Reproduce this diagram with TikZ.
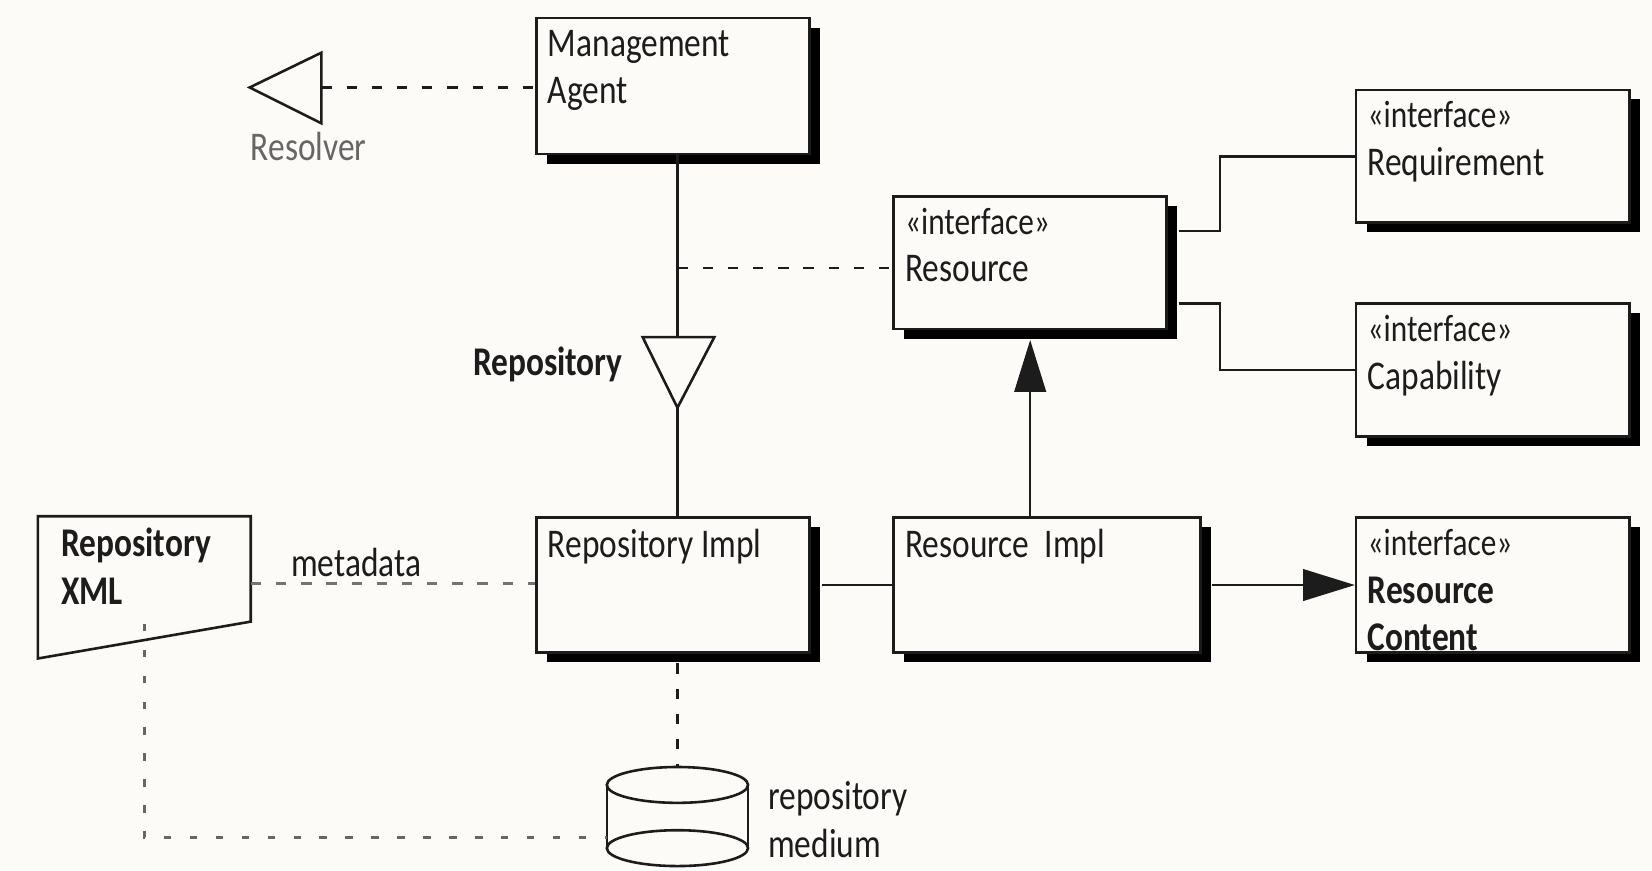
\documentclass[tikz,border=0pt]{standalone}
\usepackage{fontspec}
\setmainfont{Carlito}[FakeStretch=0.82]
\usetikzlibrary{shadows}
\usetikzlibrary{arrows.meta}

\definecolor{paper}{RGB}{252,251,248}
\definecolor{ink}{RGB}{28,28,28}
\newcommand{\ifacefont}{\fontsize{10.3}{12.8}\selectfont}

\tikzset{
  umlbox/.style={draw=ink, fill=paper, anchor=north west, inner sep=0pt,
    general shadow={fill=black, shadow xshift=2.9pt, shadow yshift=-2.6pt}},
  boxtext/.style={anchor=north west, align=left, inner sep=0pt, xshift=3.1pt, yshift=-3.2pt,
    text=ink, font=\fontsize{11}{12.8}\selectfont},
  plaintext/.style={align=left, inner sep=0pt, text=ink, font=\fontsize{11}{12.8}\selectfont},
  dep/.style={dash pattern=on 2.8pt off 4pt},
  fat/.style={-{Triangle[length=14pt, width=8.5pt]}}
}

\begin{document}
\begin{tikzpicture}[x=0.01cm, y=-0.01cm, line width=0.7pt, draw=ink]
  \fill[paper] (0,0) rectangle (1568,826);
  \useasboundingbox (0,0) rectangle (1568,826);

  % classes
  \node[umlbox, minimum width=2.59cm, minimum height=1.29cm,
    label={[boxtext]north west:Management\\Agent}] (agent) at (508,16) {};
  \node[umlbox, minimum width=2.59cm, minimum height=1.26cm,
    label={[boxtext]north west:{\ifacefont «interface»}\\Resource}] (res) at (847,185) {};
  \node[umlbox, minimum width=2.59cm, minimum height=1.26cm,
    label={[boxtext]north west:{\ifacefont «interface»}\\Requirement}] (req) at (1286,84) {};
  \node[umlbox, minimum width=2.59cm, minimum height=1.26cm,
    label={[boxtext]north west:{\ifacefont «interface»}\\Capability}] (cap) at (1286,287) {};
  \node[umlbox, minimum width=2.59cm, minimum height=1.28cm,
    label={[boxtext]north west:Repository Impl}] (rimpl) at (508,490) {};
  \node[umlbox, minimum width=2.91cm, minimum height=1.28cm,
    label={[boxtext]north west:Resource\ \ Impl}] (resimpl) at (847,490) {};
  \node[umlbox, minimum width=2.59cm, minimum height=1.28cm,
    label={[boxtext]north west:{\ifacefont «interface»}\\\textbf{Resource}\\\textbf{Content}}] (rc) at (1286,490) {};

  % Resolver interface
  \coordinate (rslv) at (305,83);
  \draw (305,50) -- (237,83) -- (305,117) -- cycle;
  \node[plaintext, text=black!60] (rslvlbl) at (293,139) {Resolver};
  \draw[dep] (rslv) -- (rslv -| agent.west);

  % Repository interface
  \coordinate (rtop) at (643,320);
  \coordinate (rtip) at (643,387);
  \draw (610,320) -- (678,320) -- (rtip) -- cycle;
  \node[plaintext, font=\fontsize{11}{12.8}\selectfont\bfseries] (replbl) at (520,346) {Repository};
  \draw (rtop |- agent.south) -- (rtop);
  \draw (rtip) -- (rtip |- rimpl.north);
  \draw[dep] ([yshift=-0.05cm]rtop |- res.west) -- ([yshift=-0.05cm]res.west);

  % links to the interfaces
  \draw ([xshift=2.9pt, yshift=0.3cm]res.east) -| ([xshift=-1.28cm]req.west) -- (req.west);
  \draw ([xshift=2.9pt, yshift=-0.39cm]res.east) -| ([xshift=-1.28cm]cap.west) -- (cap.west);
  \draw[fat] (res.south |- resimpl.north) -- ([yshift=-2.6pt]res.south);
  \draw ([xshift=2.9pt]rimpl.east) -- (resimpl.west);
  \draw[fat] ([xshift=2.9pt]resimpl.east) -- (rc.west);

  % Repository XML
  \draw (36,490) -- (238,490) -- (238,590) -- (36,625) -- cycle;
  \node[plaintext, anchor=north west, font=\fontsize{11}{12.8}\selectfont\bfseries] (xml) at (57,500) {Repository\\XML};
  \coordinate (xmlr) at (238,554);
  \coordinate (xmlb) at (137,592);
  \node[plaintext] (meta) at (338,534) {metadata};
  \draw[dep, black!55] (xmlr) -- (xmlr -| rimpl.west);

  % repository medium
  \coordinate (dbtop) at (643,728);
  \coordinate (dbleft) at (576,795);
  \draw (643,745) ellipse [x radius=0.67cm, y radius=0.17cm];
  \draw (643,805) ellipse [x radius=0.67cm, y radius=0.17cm];
  \draw (576,745) -- (576,805);
  \draw (710,745) -- (710,805);
  \node[plaintext, anchor=west] (dblbl) at (728,778) {repository\\medium};
  \draw[dep] ([yshift=-2.6pt]dbtop |- rimpl.south) -- (dbtop);
  \draw[dash pattern=on 2pt off 5pt, black!60] (xmlb) |- (dbleft);
\end{tikzpicture}
\end{document}
